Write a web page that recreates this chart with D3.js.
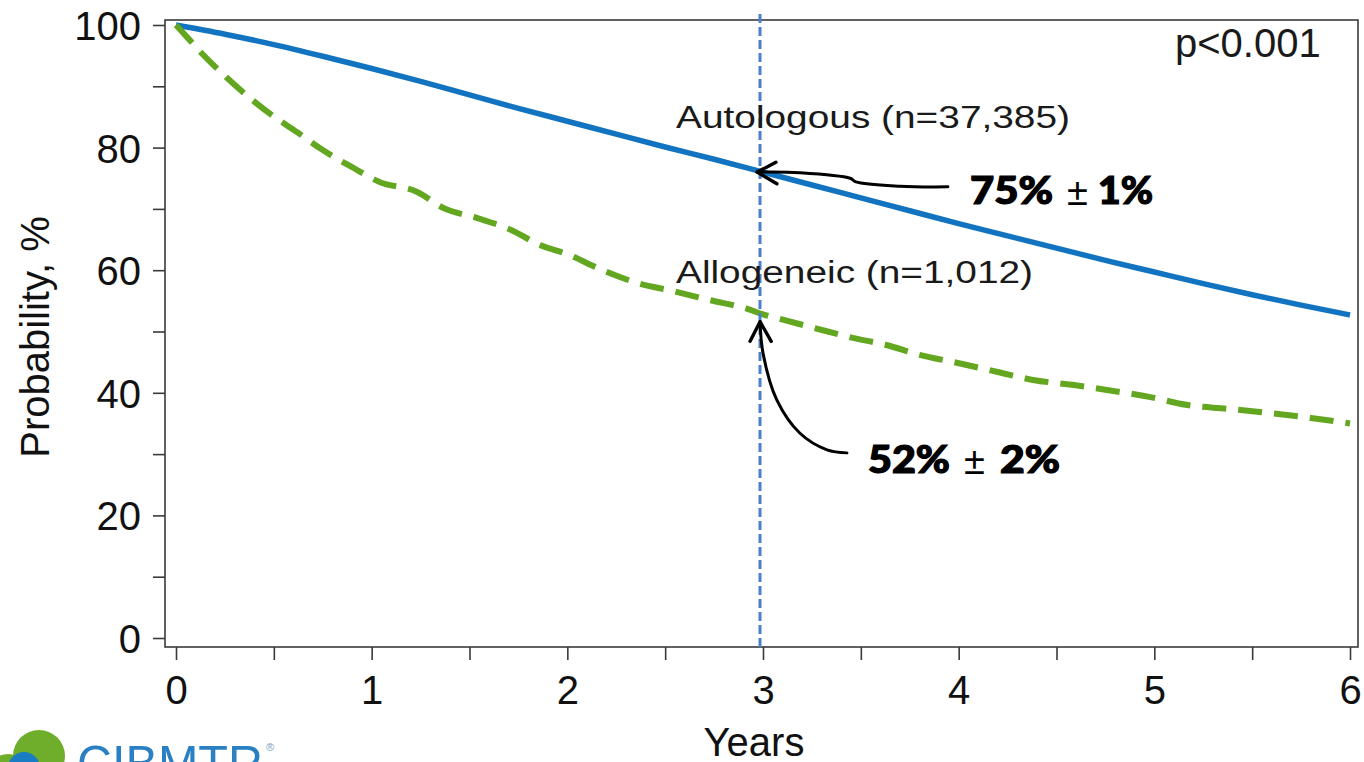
<!DOCTYPE html>
<html>
<head>
<meta charset="utf-8">
<script src="https://cdn.jsdelivr.net/npm/d3@7"></script>
<style>
  html, body { margin: 0; padding: 0; background: #fff; overflow: hidden; }
  svg { display: block; font-family: "Liberation Sans", Arial, sans-serif; }
</style>
</head>
<body>
<svg id="chart" width="1364" height="762"></svg>
<script>
// ---- Data ----
const autoTimes  = [0, 0.25, 0.5, 0.75, 1, 1.25, 1.5, 1.75, 2, 2.25, 2.5, 2.75, 3, 3.25, 3.5, 3.75, 4, 4.25, 4.5, 4.75, 5, 5.25, 5.5, 5.75, 6];
const autoValues = [100, 98.5, 96.8, 94.9, 92.9, 90.8, 88.6, 86.4, 84.3, 82.2, 80.1, 78.1, 76.0, 73.9, 71.8, 69.7, 67.6, 65.6, 63.6, 61.6, 59.7, 57.8, 56.0, 54.3, 52.7];

const alloTimes  = [0, 0.06, 0.14, 0.26, 0.37, 0.49, 0.62, 0.75, 0.9, 1.04, 1.23, 1.37, 1.54, 1.71, 1.86, 2.0, 2.18, 2.36, 2.54, 2.73, 2.92, 3.0, 3.07, 3.26, 3.44, 3.63, 3.8, 3.99, 4.2, 4.38, 4.58, 4.79, 4.98, 5.17, 5.37, 5.59, 5.8, 6.0];
const alloValues = [100, 97.9, 95.1, 91.4, 88.3, 85.3, 82.5, 79.6, 76.8, 74.4, 72.8, 70.1, 68.5, 66.6, 64.1, 62.6, 60.0, 57.9, 56.6, 55.1, 53.7, 52.8, 52.2, 50.6, 49.1, 47.8, 46.2, 44.9, 43.4, 42.1, 41.3, 40.3, 39.3, 38.0, 37.4, 36.7, 35.9, 35.0];

const xMajorTicks = [0, 1, 2, 3, 4, 5, 6];
const xMinorTicks = [0.5, 1.5, 2.5, 3.5, 4.5, 5.5];
const yMajorTicks = [0, 20, 40, 60, 80, 100];
const yMinorTicks = [10, 30, 50, 70, 90];

const refYear = 3;
const seriesLabels = ["Autologous (n=37,385)", "Allogeneic (n=1,012)"];
const pValueLabel = "p<0.001";
const autoEstimate = ["75%", "±", "1%"];
const alloEstimate = ["52%", "±", "2%"];

// annotation arrows, in data units (years, %)
const arrow1 = [[2.97, 76.0], [3.19, 75.9], [3.445, 75.0], [3.475, 74.4], [3.70, 73.7], [3.945, 73.6]];
const arrow1Head = [[3.066, 77.6], [2.97, 76.0], [3.071, 74.1]];
const arrow2 = [[2.985, 51.6], [3.0, 46.5], [3.071, 38.8], [3.189, 33.4], [3.327, 30.7], [3.429, 30.2]];
const arrow2Head = [[2.934, 48.4], [2.985, 51.6], [3.042, 48.4]];

// ---- Scales ----
const svg = d3.select("#chart");
const x = d3.scaleLinear().domain([0, 6]).range([176, 1350]);
const y = d3.scaleLinear().domain([0, 100]).range([638, 25]);
const frame = { left: 165, right: 1358, top: 20, bottom: 647 };

// frame
svg.append("rect")
  .attr("x", frame.left).attr("y", frame.top)
  .attr("width", frame.right - frame.left).attr("height", frame.bottom - frame.top)
  .attr("fill", "none").attr("stroke", "#3a3a3a").attr("stroke-width", 1.6);

// Y axis
const yAxis = d3.axisLeft(y).tickValues(yMajorTicks).tickSize(12).tickPadding(12).tickFormat(d3.format("d"));
const gy = svg.append("g").attr("transform", `translate(${frame.left},0)`).call(yAxis);
gy.select(".domain").remove();
gy.selectAll(".tick line").attr("stroke", "#3a3a3a").attr("stroke-width", 1.6);
gy.selectAll(".tick text").attr("font-size", 40).attr("fill", "#111")
  .attr("font-family", "'Liberation Sans', Arial, sans-serif").attr("dy", "0.36em");
const yMinor = d3.axisLeft(y).tickValues(yMinorTicks).tickSize(12).tickFormat("");
const gym = svg.append("g").attr("transform", `translate(${frame.left},0)`).call(yMinor);
gym.select(".domain").remove();
gym.selectAll(".tick line").attr("stroke", "#3a3a3a").attr("stroke-width", 1.6);

// X axis
const xAxis = d3.axisBottom(x).tickValues(xMajorTicks).tickSize(13).tickPadding(16).tickFormat(d3.format("d"));
const gx = svg.append("g").attr("transform", `translate(0,${frame.bottom})`).call(xAxis);
gx.select(".domain").remove();
gx.selectAll(".tick line").attr("stroke", "#3a3a3a").attr("stroke-width", 1.6);
gx.selectAll(".tick text").attr("font-size", 40).attr("fill", "#111")
  .attr("font-family", "'Liberation Sans', Arial, sans-serif");
const xMinor = d3.axisBottom(x).tickValues(xMinorTicks).tickSize(13).tickFormat("");
const gxm = svg.append("g").attr("transform", `translate(0,${frame.bottom})`).call(xMinor);
gxm.select(".domain").remove();
gxm.selectAll(".tick line").attr("stroke", "#3a3a3a").attr("stroke-width", 1.6);

// axis titles
svg.append("text").attr("x", 754).attr("y", 756).attr("text-anchor", "middle")
  .attr("font-size", 40).attr("fill", "#111").text("Years");
svg.append("text").attr("transform", "translate(49,337) rotate(-90)").attr("text-anchor", "middle")
  .attr("font-size", 40).attr("fill", "#111").text("Probability, %");

// curves
const line = d3.line().x(d => x(d[0])).y(d => y(d[1])).curve(d3.curveMonotoneX);
const autoData = autoTimes.map((t, i) => [t, autoValues[i]]);
const alloData = alloTimes.map((t, i) => [t, alloValues[i]]);

svg.append("path").datum(autoData).attr("d", line)
  .attr("fill", "none").attr("stroke", "#1273c0").attr("stroke-width", 5.5)
  .attr("stroke-linejoin", "round");
svg.append("path").datum(alloData).attr("d", line)
  .attr("fill", "none").attr("stroke", "#62a71f").attr("stroke-width", 6)
  .attr("stroke-dasharray", "24,12");

// reference vertical line at 3 years
svg.append("line")
  .attr("x1", x(refYear) - 3).attr("x2", x(refYear) - 3)
  .attr("y1", 14).attr("y2", 651)
  .attr("stroke", "#4a80c8").attr("stroke-width", 3).attr("stroke-dasharray", "9,4");

// series labels
svg.append("text").attr("x", 676).attr("y", 128).attr("font-size", 31).attr("fill", "#1a1a1a")
  .attr("textLength", 394).attr("lengthAdjust", "spacingAndGlyphs").text(seriesLabels[0]);
svg.append("text").attr("x", 676).attr("y", 283).attr("font-size", 31).attr("fill", "#1a1a1a")
  .attr("textLength", 357).attr("lengthAdjust", "spacingAndGlyphs").text(seriesLabels[1]);
svg.append("text").attr("x", 1175).attr("y", 57).attr("font-size", 40).attr("fill", "#1a1a1a")
  .text(pValueLabel);

// arrows
const arrowLine = d3.line().x(d => x(d[0])).y(d => y(d[1])).curve(d3.curveCatmullRom);
const straight = d3.line().x(d => x(d[0])).y(d => y(d[1]));
[arrow1, arrow2].forEach(a => {
  svg.append("path").datum(a).attr("d", arrowLine)
    .attr("fill", "none").attr("stroke", "#000").attr("stroke-width", 3).attr("stroke-linecap", "round");
});
[arrow1Head, arrow2Head].forEach(a => {
  svg.append("path").datum(a).attr("d", straight)
    .attr("fill", "none").attr("stroke", "#000").attr("stroke-width", 3.4)
    .attr("stroke-linecap", "round").attr("stroke-linejoin", "round");
});

// estimate annotations
function estimate(parts, xs, widths, baseline) {
  svg.append("text").attr("x", xs[0]).attr("y", baseline)
    .attr("font-family", "Lato, 'DejaVu Sans', sans-serif").attr("font-weight", 900)
    .attr("font-size", 37).attr("fill", "#000").attr("stroke", "#000").attr("stroke-width", 1.2)
    .attr("textLength", widths[0]).attr("lengthAdjust", "spacingAndGlyphs").text(parts[0]);
  svg.append("text").attr("x", xs[1]).attr("y", baseline + 1)
    .attr("font-family", "'Liberation Sans', Arial, sans-serif").attr("font-weight", 400)
    .attr("font-size", 38).attr("fill", "#000")
    .text(parts[1]);
  svg.append("text").attr("x", xs[2]).attr("y", baseline)
    .attr("font-family", "Lato, 'DejaVu Sans', sans-serif").attr("font-weight", 900)
    .attr("font-size", 37).attr("fill", "#000").attr("stroke", "#000").attr("stroke-width", 1.2)
    .attr("textLength", widths[2]).attr("lengthAdjust", "spacingAndGlyphs").text(parts[2]);
}
estimate(autoEstimate, [970, 1067, 1098], [83, 20, 55], 204);
estimate(alloEstimate, [868, 964, 1000], [82, 20, 60], 473);

// CIBMTR logo (partially visible at bottom-left)
const logo = svg.append("g");
logo.append("circle").attr("cx", 8).attr("cy", 776).attr("r", 22).attr("fill", "#6fae2a");
logo.append("circle").attr("cx", 39).attr("cy", 756).attr("r", 26).attr("fill", "#6fae2a");
logo.append("circle").attr("cx", 24).attr("cy", 768).attr("r", 16).attr("fill", "#1a7cc2");
logo.append("text").attr("x", 77).attr("y", 781).attr("font-size", 50).attr("fill", "#2a80c2")
  .attr("textLength", 186).attr("lengthAdjust", "spacingAndGlyphs").text("CIBMTR");
logo.append("text").attr("x", 266).attr("y", 751).attr("font-size", 11).attr("fill", "#7aa0c0").text("®");
</script>
</body>
</html>
